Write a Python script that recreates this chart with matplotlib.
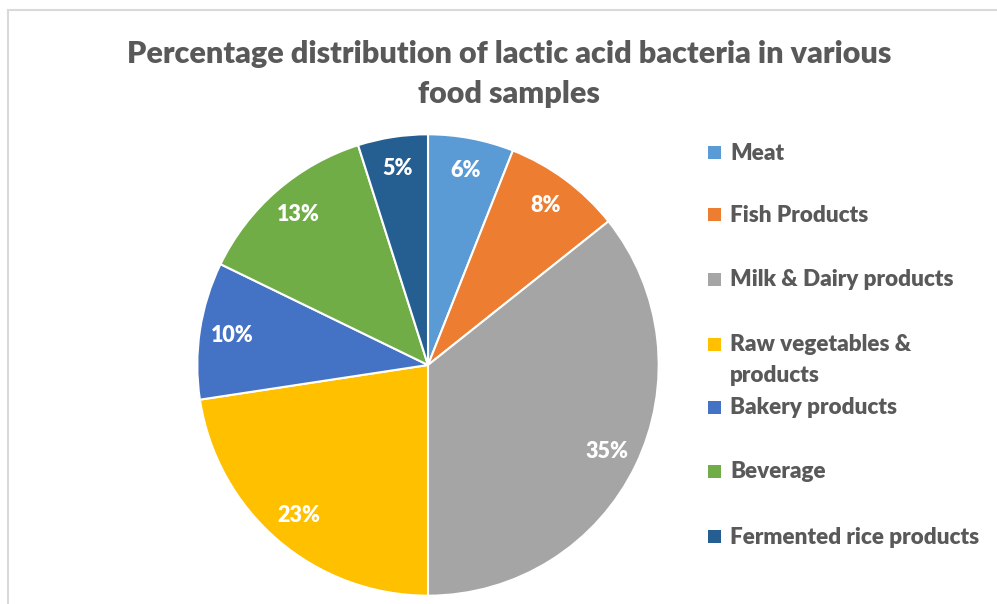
import matplotlib
matplotlib.use("Agg")
import matplotlib.pyplot as plt
from matplotlib.patches import Rectangle

categories = ["Meat", "Fish Products", "Milk & Dairy products",
              "Raw vegetables &\nproducts", "Bakery products", "Beverage",
              "Fermented rice products"]
values = [6.0, 8.3, 35.7, 22.6, 9.6, 12.9, 4.9]
pct_labels = ["6%", "8%", "35%", "23%", "10%", "13%", "5%"]
colors = ["#5B9BD5", "#ED7D31", "#A5A5A5", "#FFC000", "#4472C4", "#70AD47", "#255E91"]

plt.rcParams['font.family'] = ['Lato', 'DejaVu Sans']
W, H = 997, 604
fig = plt.figure(figsize=(W / 100, H / 100), dpi=100)
fig.patch.set_facecolor("white")

# chart border
fig.add_artist(Rectangle((8 / W, -0.05), 1.1, (H - 10) / H + 0.05, transform=fig.transFigure,
                         fill=False, edgecolor="#D9D9D9", linewidth=1.5))

cx, cy, r = 428, 365, 233
ax = fig.add_axes([(cx - r) / W, (H - cy - r) / H, 2 * r / W, 2 * r / H])
wedges, texts = ax.pie(values, colors=colors, startangle=90, counterclock=False,
                       labels=pct_labels, labeldistance=0.86,
                       wedgeprops=dict(edgecolor="white", linewidth=1.5))
for t in texts:
    t.set_color("white")
    t.set_fontweight("heavy")
    t.set_fontsize(15.5)
    t.set_ha("center")
    t.set_va("center")
ax.set_xlim(-1.01, 1.01)
ax.set_ylim(-1.01, 1.01)
ax.set_aspect("equal")
ax.axis("off")

fig.text(509 / W, 1 - 74 / H, "Percentage distribution of lactic acid bacteria in various\nfood samples",
         ha="center", va="center", fontsize=22, fontweight="heavy", color="#595959",
         linespacing=1.55)

# legend
leg_y = [153, 215, 280, 345, 408, 472, 537]
for lab, col, y in zip(categories, colors, leg_y):
    fig.add_artist(Rectangle((708 / W, 1 - (y + 6) / H), 13 / W, 13 / H,
                             transform=fig.transFigure, facecolor=col, edgecolor="none"))
    if "\n" in lab:
        fig.text(730 / W, 1 - (y + 15) / H, lab, ha="left", va="center",
                 fontsize=16.2, fontweight="heavy", color="#595959", linespacing=1.55)
    else:
        fig.text(730 / W, 1 - y / H, lab, ha="left", va="center",
                 fontsize=16.2, fontweight="heavy", color="#595959")

fig.savefig("out.png", dpi=100, facecolor="white")
